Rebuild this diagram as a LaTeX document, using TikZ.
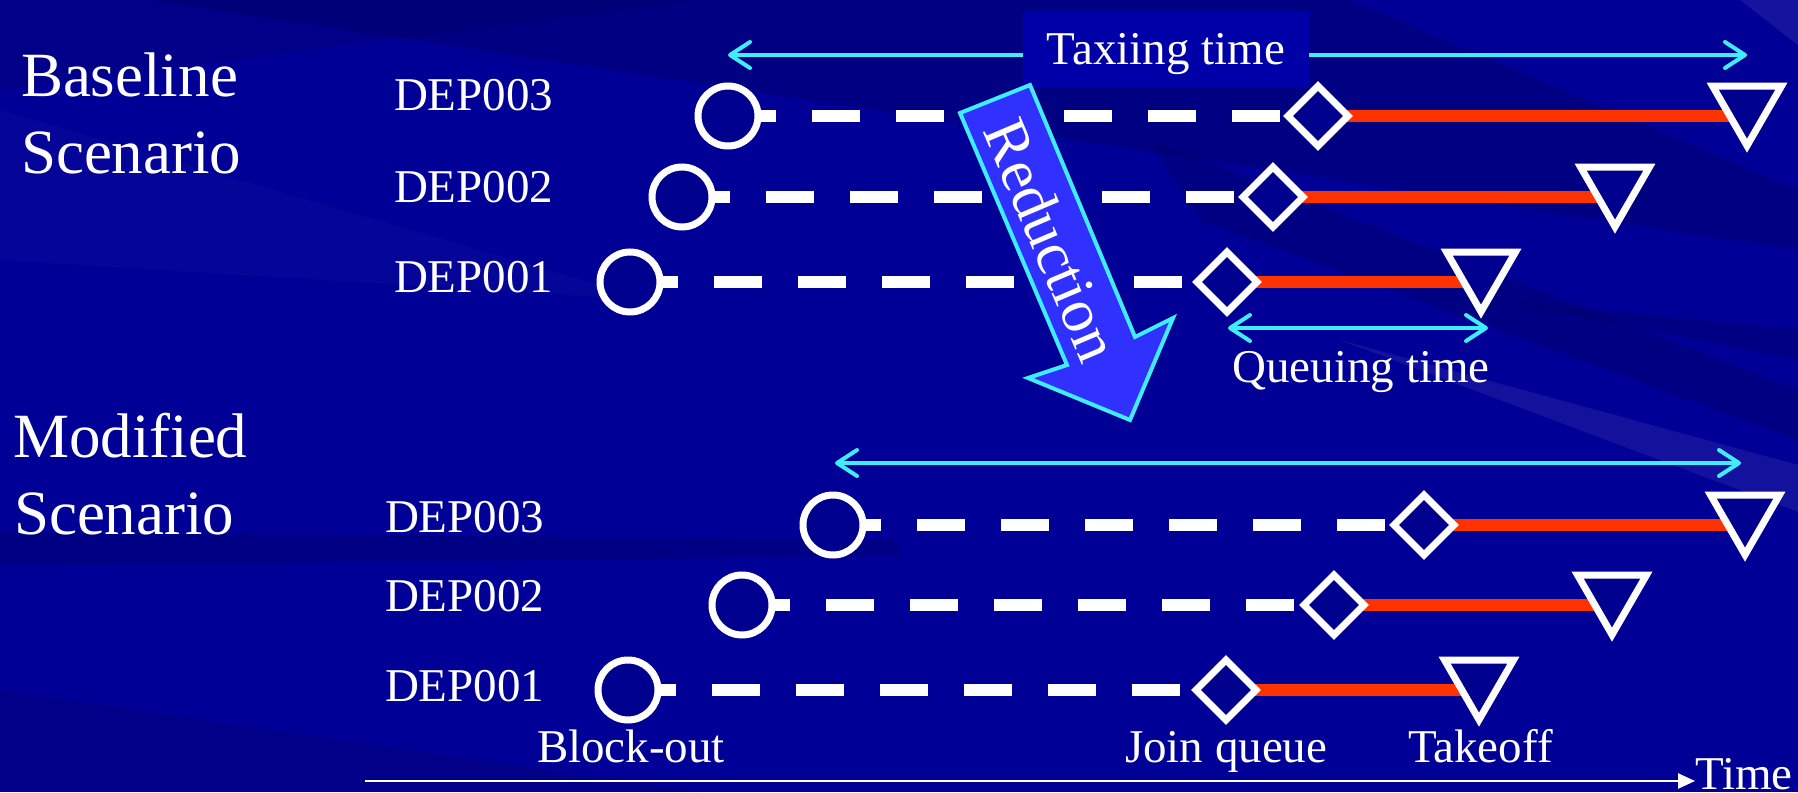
\documentclass[tikz,border=0pt]{standalone}
\usepackage{fontspec}
\setmainfont{Liberation Serif}
\usetikzlibrary{arrows.meta,shapes.geometric}

\pgfdeclarelayer{bg}
\pgfdeclarelayer{lines}
\pgfsetlayers{bg,lines,main}

\definecolor{navy}{RGB}{0,0,150}
\definecolor{navydark}{RGB}{0,0,95}
\definecolor{markfill}{RGB}{0,0,142}
\definecolor{aqua}{RGB}{64,236,255}
\definecolor{queuered}{RGB}{255,51,0}
\definecolor{boxblue}{RGB}{0,0,168}
\definecolor{arrowblue}{RGB}{48,48,255}

\tikzset{
  blockout/.style={circle, draw=white, fill=markfill, line width=3.5pt,
    minimum size=30pt, inner sep=0pt, outer sep=0pt},
  joinq/.style={diamond, draw=white, fill=markfill, line width=3.5pt,
    minimum width=30pt, minimum height=30pt, inner sep=0pt, outer sep=0pt},
  takeoffmark/.style={regular polygon, regular polygon sides=3,
    shape border rotate=180, draw=white, fill=markfill, line width=3.5pt,
    minimum size=39.7pt, inner sep=0pt, outer sep=0pt},
  taxiline/.style={white, line width=6pt, dash pattern=on 24pt off 18pt},
  queueline/.style={queuered, line width=6pt},
  span/.style={aqua, line width=2pt,
    {Straight Barb[length=10pt,width=13pt,round]}-{Straight Barb[length=10pt,width=13pt,round]}},
  timeaxis/.style={white, line width=1.3pt, -{Triangle[length=8.5pt,width=7.5pt]}},
  txt/.style={text=white, inner sep=0pt, outer sep=0pt, anchor=base west,
    font=\fontsize{23.5}{28}\selectfont},
  bigtxt/.style={text=white, inner sep=0pt, outer sep=0pt, anchor=base west,
    font=\fontsize{31.5}{36}\selectfont},
}

% one departure: block-out circle, join-queue diamond, takeoff triangle
\newcommand\flightrow[5]{%
  \node[blockout] (#1c) at (#3,#2) {};
  \node[joinq] (#1d) at (#4,#2) {};
  \node[takeoffmark] (#1t) at (#5,#2-10) {};
  \begin{pgfonlayer}{lines}
    \draw[taxiline] (#1c.center) -- (#1d.center);
    \draw[queueline] (#1d.center) -- (#1d.center -| #1t.center);
  \end{pgfonlayer}}

\begin{document}
\begin{tikzpicture}[x=0.5pt,y=-0.5pt]
\useasboundingbox (0,0) rectangle (1798,792);

% background with diagonal streaks
\begin{pgfonlayer}{bg}
  \fill[navy] (0,0) rectangle (1798,792);
  \fill[navydark, opacity=0.35] (150,0) -- (1350,0) -- (1798,190) -- (1798,250) -- cycle;
  \fill[navydark, opacity=0.25] (0,0) -- (700,0) -- (0,90) -- cycle;
  \fill[navydark, opacity=0.35] (1150,140) -- (1798,390) -- (1798,440) -- (1200,220) -- cycle;
  \fill[navydark, opacity=0.3] (1500,300) -- (1798,330) -- (1798,360) -- cycle;
  \fill[white, opacity=0.07] (1340,340) -- (1798,465) -- (1798,512) -- cycle;
  \fill[white, opacity=0.08] (1740,0) -- (1798,0) -- (1798,45) -- cycle;
  \fill[navydark, opacity=0.3] (0,532) -- (900,540) -- (900,556) -- (0,566) -- cycle;
  \fill[navydark, opacity=0.25] (0,690) -- (700,792) -- (0,792) -- cycle;
  \fill[white, opacity=0.02] (0,110) -- (650,300) -- (0,260) -- cycle;
\end{pgfonlayer}

% scenario titles
\node[bigtxt] (basetitleA) at (21,97) {Baseline};
\node[bigtxt] (basetitleB) at (21,173) {Scenario};
\node[bigtxt] (modtitleA) at (13,457) {Modified};
\node[bigtxt] (modtitleB) at (14,534) {Scenario};

% flight labels
\node[txt] (bl3) at (394,111) {DEP003};
\node[txt] (bl2) at (394,202) {DEP002};
\node[txt] (bl1) at (394,292) {DEP001};
\node[txt] (ml3) at (385,532) {DEP003};
\node[txt] (ml2) at (385,611) {DEP002};
\node[txt] (ml1) at (385,701) {DEP001};

% baseline scenario
\flightrow{b3}{116}{728}{1318}{1747}
\flightrow{b2}{197}{682}{1273}{1615}
\flightrow{b1}{282}{630}{1227}{1481}

% modified scenario
\flightrow{m3}{525}{833}{1424}{1745}
\flightrow{m2}{605}{742}{1334}{1612}
\flightrow{m1}{690}{628}{1226}{1479}

% time spans
\coordinate (taxiL) at (728,55);
\coordinate (taxiR) at (1747,55);
\coordinate (queueL) at (1228,328);
\coordinate (queueR) at (1488,328);
\coordinate (modL) at (835,463);
\coordinate (modR) at (1741,463);
\coordinate (axisL) at (365,781);
\coordinate (axisR) at (1695,781);
\begin{pgfonlayer}{lines}
  \draw[span] (taxiL) -- (taxiR);
  \draw[span] (queueL) -- (queueR);
  \draw[span] (modL) -- (modR);
  \draw[timeaxis] (axisL) -- (axisR);
\end{pgfonlayer}

\node[fill=boxblue, inner sep=0pt, minimum width=143pt, minimum height=38.5pt]
  (taxibox) at (1166,49.5) {};
\node[txt, anchor=base] (taxitxt) at (1166,65) {Taxiing time};
\node[txt, anchor=base] (queuetxt) at (1361,382) {Queuing time};

% event names along the time axis
\node[txt] (evblock) at (537,762) {Block-out};
\node[txt] (evjoin) at (1125,762) {Join queue};
\node[txt] (evtake) at (1408,762) {Takeoff};
\node[txt] (evtime) at (1695,789) {Time};

% reduction arrow
\draw[fill=arrowblue, draw=aqua, line width=2pt, line join=miter]
  (960,113) -- (1030,85) -- (1135,337) -- (1173,318) -- (1130,420)
  -- (1028,378) -- (1067,365) -- cycle;
\node[text=white, inner sep=0pt, rotate=-67,
  font=\fontsize{31}{36}\selectfont] (reduce) at (1052,240) {Reduction};

\end{tikzpicture}
\end{document}
